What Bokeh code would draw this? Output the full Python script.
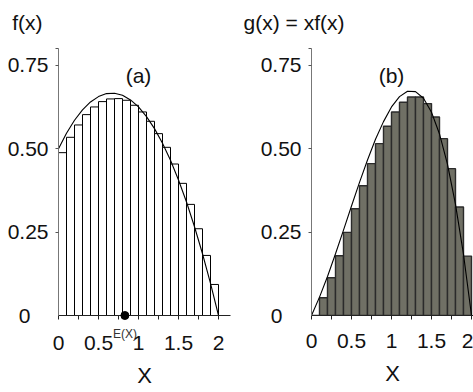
from bokeh.plotting import figure
from bokeh.layouts import row
from bokeh.models import FixedTicker, Label, Range1d, LinearAxis
from bokeh.embed import file_html
from bokeh.resources import INLINE

# ---- data ----
bin_left = [0.0, 0.1, 0.2, 0.3, 0.4, 0.5, 0.6, 0.7, 0.8, 0.9,
            1.0, 1.1, 1.2, 1.3, 1.4, 1.5, 1.6, 1.7, 1.8, 1.9]
bin_width = 0.1
f_bars = [0.488, 0.534, 0.571, 0.602, 0.625, 0.641, 0.649, 0.650, 0.645, 0.630,
          0.610, 0.582, 0.545, 0.504, 0.454, 0.396, 0.333, 0.260, 0.180, 0.093]
g_bars = [0.0, 0.053, 0.113, 0.179, 0.249, 0.320, 0.389, 0.455, 0.515, 0.567,
          0.610, 0.639, 0.655, 0.655, 0.635, 0.595, 0.530, 0.440, 0.325, 0.178]
curve_x = [0.0, 0.1, 0.2, 0.3, 0.4, 0.5, 0.6, 0.7, 0.8, 0.9, 1.0,
           1.1, 1.2, 1.3, 1.4, 1.5, 1.6, 1.7, 1.8, 1.9, 2.0]
f_curve = [0.500, 0.546, 0.585, 0.616, 0.640, 0.656, 0.665, 0.666, 0.660, 0.646, 0.625,
           0.596, 0.560, 0.516, 0.465, 0.406, 0.340, 0.266, 0.185, 0.096, 0.0]
g_curve = [0.0, 0.055, 0.117, 0.185, 0.256, 0.328, 0.399, 0.466, 0.528, 0.581, 0.625,
           0.656, 0.672, 0.671, 0.651, 0.609, 0.544, 0.453, 0.333, 0.183, 0.0]
EX = 0.83
x_tick_marks = [0, 0.25, 0.5, 0.75, 1, 1.25, 1.5, 1.75, 2]
x_major = [0, 0.5, 1, 1.5, 2]
y_major = [0.25, 0.5, 0.75]
x_labels = {0: "0", 0.5: "0.5", 1: "1", 1.5: "1.5", 2: "2"}
y_labels = {0.25: "0.25", 0.5: "0.50", 0.75: "0.75"}

FONT = "Liberation Sans"
TICK_SIZE = "21px"
INK = "#111111"
TITLE_Y = 0.877   # height (in y units) where the panel heading sits


def bare_axis(axis):
    axis.axis_line_color = None
    axis.major_tick_line_color = None
    axis.minor_tick_line_color = None
    axis.major_tick_out = 0
    axis.major_tick_in = 0
    axis.minor_tick_out = 0
    axis.minor_tick_in = 0
    axis.major_label_text_font = FONT
    axis.major_label_text_font_size = TICK_SIZE
    axis.major_label_text_color = INK


def make_panel(width, left_border, right_border, x_end, title, tag,
               tops, fill, edge, edge_w, curve, with_ex, title_standoff, zero_standoff):
    p = figure(width=width, height=392, output_backend="svg", toolbar_location=None,
               title=None,
               x_range=Range1d(0, x_end), y_range=Range1d(0, 0.92),
               min_border_left=left_border, min_border_right=right_border,
               min_border_top=8, min_border_bottom=77)
    p.outline_line_color = None
    p.grid.visible = False
    p.background_fill_color = "white"
    p.border_fill_color = "white"

    rights = [b + bin_width for b in bin_left]
    p.quad(left=bin_left, right=rights, bottom=0, top=tops,
           fill_color=fill, line_color=edge, line_width=edge_w)
    p.line(curve_x, curve, line_color="black", line_width=1.1)

    # inner x axis: line, ticks and the E(X) mark
    xa = p.xaxis[0]
    if with_ex:
        xa.ticker = FixedTicker(ticks=[EX], minor_ticks=x_tick_marks)
        xa.major_label_overrides = {EX: "E(X)"}
    else:
        xa.ticker = FixedTicker(ticks=[], minor_ticks=x_tick_marks)
    xa.axis_line_color = "#222222"
    xa.major_tick_line_color = None
    xa.minor_tick_line_color = "#222222"
    xa.major_tick_in = 0
    xa.major_tick_out = 0
    xa.minor_tick_in = 0
    xa.minor_tick_out = 4
    xa.major_label_standoff = 7
    xa.major_label_text_font = FONT
    xa.major_label_text_font_size = "12px"
    xa.major_label_text_color = "#333333"

    # outer x axis: numbers and axis title
    xb = LinearAxis(ticker=FixedTicker(ticks=x_major), major_label_overrides=x_labels)
    bare_axis(xb)
    xb.major_label_standoff = -8 if with_ex else 14
    xb.axis_label = "X"
    xb.axis_label_text_font = FONT
    xb.axis_label_text_font_size = "22px"
    xb.axis_label_text_font_style = "normal"
    xb.axis_label_text_color = INK
    xb.axis_label_standoff = 10
    p.add_layout(xb, "below")

    ya = p.yaxis[0]
    ya.ticker = FixedTicker(ticks=y_major, minor_ticks=[0.8])
    ya.major_label_overrides = y_labels
    ya.bounds = (0, 0.8)
    ya.axis_line_color = "#777777"
    ya.major_tick_line_color = "#555555"
    ya.minor_tick_line_color = "#555555"
    ya.major_tick_in = 0
    ya.major_tick_out = 3
    ya.minor_tick_in = 0
    ya.minor_tick_out = 3
    ya.major_label_standoff = 7
    ya.major_label_text_font = FONT
    ya.major_label_text_font_size = TICK_SIZE
    ya.major_label_text_color = INK

    # heading, carried by an outer y axis
    yt = LinearAxis(ticker=FixedTicker(ticks=[TITLE_Y]), major_label_overrides={TITLE_Y: title})
    bare_axis(yt)
    yt.major_label_standoff = title_standoff
    p.add_layout(yt, "left")

    # outer y axis carrying only the "0"
    yb = LinearAxis(ticker=FixedTicker(ticks=[0]), major_label_overrides={0: "0"})
    bare_axis(yb)
    yb.major_label_standoff = zero_standoff
    p.add_layout(yb, "left")

    p.add_layout(Label(x=1.0, y=0.72, text=tag, text_align="center",
                       text_baseline="middle", text_font=FONT,
                       text_font_size="21px", text_color=INK))
    return p


p1 = make_panel(236, 58, 6, 2.15, "f(x)", "(a)", f_bars, "white", "black", 1.0,
                f_curve, True, -38, -26)
p1.scatter([EX], [0], size=8, color="black", level="overlay")

p2 = make_panel(237, 75, 0, 2.025, "g(x) = xf(x)", "(b)", g_bars, "#707065", "#2b2b2b", 1.4,
                g_curve, False, -87, -42)

layout = row(p1, p2)
open("out.html", "w").write(file_html(layout, INLINE))
